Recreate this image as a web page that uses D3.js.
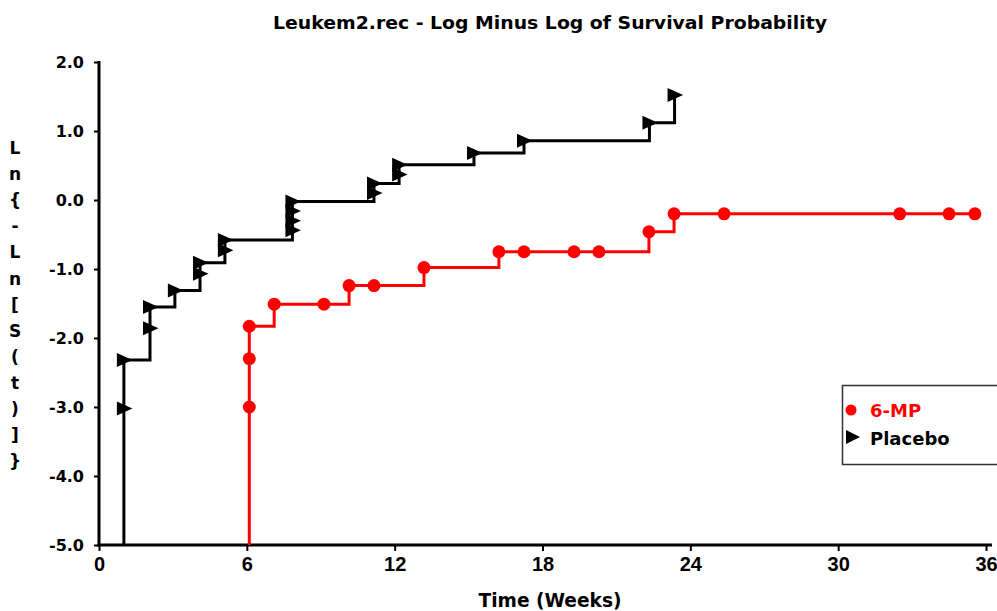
<!DOCTYPE html>
<html>
<head>
<meta charset="utf-8">
<script src="https://cdn.jsdelivr.net/npm/d3@7"></script>
<style>
  body { margin: 0; background: #fff; }
  svg { display: block; }
  text { font-family: "DejaVu Sans", sans-serif; font-weight: bold; }
</style>
</head>
<body>
<div id="chart"></div>
<script>
// data
const title = 'Leukem2.rec - Log Minus Log of Survival Probability';
const xTitle = 'Time (Weeks)';
const yTitle = 'Ln{-Ln[S(t)]}';
const xTicks = [0, 6, 12, 18, 24, 30, 36];
const yTicks = [2, 1, 0, -1, -2, -3, -4, -5];
const seriesNames = ['6-MP', 'Placebo'];
const seriesColors = ['#ff0000', '#000000'];

const mpTime  = [6.1, 6.1, 6.1, 7.11, 9.13, 10.15, 11.16, 13.19, 16.23, 17.25, 19.28, 20.29, 22.32, 23.34, 25.37, 32.5, 34.5, 35.55];
const mpValue = [-3.0, -2.30, -1.83, -1.51, -1.51, -1.24, -1.24, -0.98, -0.75, -0.75, -0.75, -0.75, -0.46, -0.20, -0.20, -0.20, -0.20, -0.20];

const placeboTime  = [1.01, 1.01, 2.07, 2.07, 3.08, 4.1, 4.1, 5.11, 5.11, 7.85, 7.85, 7.85, 7.85, 11.16, 11.16, 12.18, 12.18, 15.22, 17.25, 22.34, 23.36];
const placeboValue = [-3.02, -2.32, -1.86, -1.55, -1.31, -1.07, -0.91, -0.73, -0.58, -0.44, -0.30, -0.16, -0.02, 0.10, 0.24, 0.37, 0.51, 0.68, 0.86, 1.12, 1.52];

let width = 997,
    height = 611;

let svg = d3.select('#chart')
    .append('svg')
    .attr('width', width)
    .attr('height', height);

let xScale = d3.scaleLinear().domain([0, 36]).range([99, 986]);
let yScale = d3.scaleLinear().domain([-5, 2]).range([545, 62]);

//#region axes
let axisX = d3.axisBottom(xScale).tickValues(xTicks).tickSize(6).tickSizeOuter(0).tickPadding(6);
let axisY = d3.axisLeft(yScale).tickValues(yTicks).tickSize(5).tickSizeOuter(0).tickPadding(10)
    .tickFormat(d => d.toFixed(1));

let gx = svg.append('g')
    .attr('transform', `translate(0, ${yScale(-5)})`)
    .call(axisX);
gx.select('.domain').remove();
gx.selectAll('line').attr('stroke', '#000').attr('stroke-width', 2);
gx.selectAll('text')
    .style('font-size', '20px')
    .style('font-family', '"Liberation Sans", Arial, sans-serif')
    .attr('fill', '#000');

let gy = svg.append('g')
    .attr('transform', `translate(${xScale(0)}, 0)`)
    .call(axisY);
gy.select('.domain').remove();
gy.selectAll('line').attr('stroke', '#000').attr('stroke-width', 2);
gy.selectAll('text').style('font-size', '16px').attr('fill', '#000').attr('dy', '0.36em');

svg.append('line')
    .attr('x1', xScale(0)).attr('x2', xScale(0))
    .attr('y1', yScale(2) - 1).attr('y2', yScale(-5) + 1.5)
    .attr('stroke', '#000').attr('stroke-width', 3);
svg.append('line')
    .attr('x1', xScale(0) - 1.5).attr('x2', 992)
    .attr('y1', yScale(-5)).attr('y2', yScale(-5))
    .attr('stroke', '#000').attr('stroke-width', 3);
//#endregion

//#region titles
svg.append('text')
    .attr('x', 550).attr('y', 29)
    .attr('text-anchor', 'middle')
    .style('font-size', '17px')
    .attr('textLength', 554)
    .attr('lengthAdjust', 'spacingAndGlyphs')
    .text(title);

svg.append('text')
    .attr('x', 550).attr('y', 607)
    .attr('text-anchor', 'middle')
    .style('font-size', '19px')
    .attr('textLength', 143)
    .attr('lengthAdjust', 'spacingAndGlyphs')
    .text(xTitle);

svg.append('g').selectAll('text')
    .data(yTitle.split(''))
    .enter()
    .append('text')
    .attr('x', 15)
    .attr('y', (d, i) => 154 + i * 26.1)
    .attr('text-anchor', 'middle')
    .style('font-size', '17px')
    .text(d => d);
//#endregion

//#region series
let triangle = 'M-7,-7L8.5,0L-7,7Z';

function stepLine(times, values, color) {
    let pts = [[times[0], -5]].concat(times.map((t, i) => [t, values[i]]));
    let line = d3.line()
        .x(d => xScale(d[0]))
        .y(d => yScale(d[1]))
        .curve(d3.curveStepAfter);
    svg.append('path')
        .datum(pts)
        .attr('d', line)
        .attr('fill', 'none')
        .attr('stroke', color)
        .attr('stroke-width', 3);
}

stepLine(mpTime, mpValue, seriesColors[0]);
stepLine(placeboTime, placeboValue, seriesColors[1]);

svg.append('g').selectAll('circle')
    .data(mpTime)
    .enter()
    .append('circle')
    .attr('cx', d => xScale(d))
    .attr('cy', (d, i) => yScale(mpValue[i]))
    .attr('r', 6.5)
    .attr('fill', seriesColors[0]);

svg.append('g').selectAll('path')
    .data(placeboTime)
    .enter()
    .append('path')
    .attr('d', triangle)
    .attr('transform', (d, i) => `translate(${xScale(d)}, ${yScale(placeboValue[i])})`)
    .attr('fill', seriesColors[1]);
//#endregion

//#region legend
let legend = svg.append('g');
legend.append('rect')
    .attr('x', 842.5).attr('y', 385.5)
    .attr('width', 170).attr('height', 79)
    .attr('fill', '#fff')
    .attr('stroke', '#333')
    .attr('stroke-width', 1.5);
legend.append('circle')
    .attr('cx', 851).attr('cy', 410).attr('r', 5.5)
    .attr('fill', seriesColors[0]);
legend.append('path')
    .attr('d', 'M-6,-7L8,0L-6,7Z')
    .attr('transform', 'translate(852, 437)')
    .attr('fill', seriesColors[1]);
legend.selectAll('text')
    .data(seriesNames)
    .enter()
    .append('text')
    .attr('x', 870)
    .attr('y', (d, i) => 417 + i * 28)
    .style('font-size', '18px')
    .attr('fill', (d, i) => seriesColors[i])
    .text(d => d);
//#endregion
</script>
</body>
</html>
